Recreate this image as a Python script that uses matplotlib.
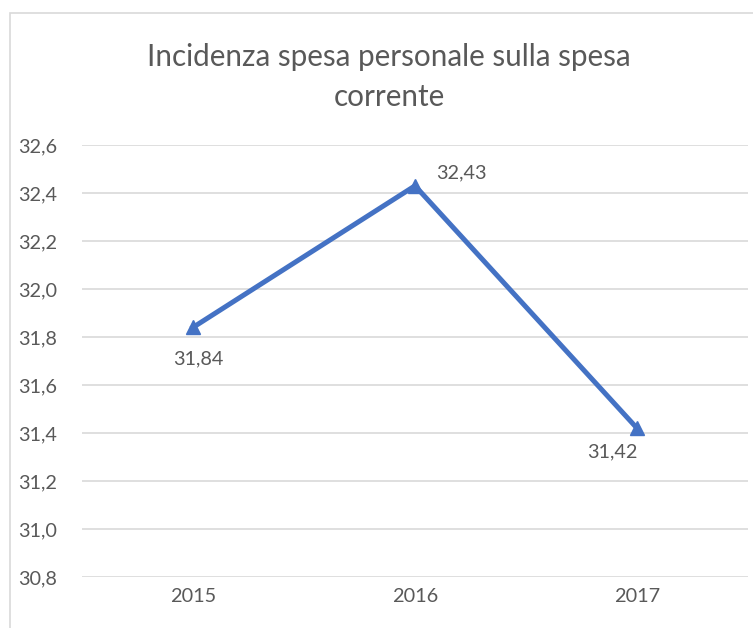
import matplotlib.pyplot as plt
from matplotlib.patches import Rectangle

anni = ['2015', '2016', '2017']
incidenza = [31.84, 32.43, 31.42]
etichette = ['31,84', '32,43', '31,42']
y_ticks = [30.8, 31.0, 31.2, 31.4, 31.6, 31.8, 32.0, 32.2, 32.4, 32.6]

plt.rcParams['font.family'] = ['Lato', 'DejaVu Sans']
grigio = '#595959'

fig = plt.figure(figsize=(7.53, 6.28), dpi=100)
# bordo del riquadro del grafico (tagliato a destra e in basso)
fig.patches.append(Rectangle((10 / 753, -0.05), 1.2, 1 - 13 / 628 + 0.05,
                             transform=fig.transFigure, fill=False,
                             edgecolor='#D9D9D9', linewidth=1.2))

ax = fig.add_axes([82 / 753, 1 - 577 / 628, 666 / 753, 432 / 628])
x = range(len(anni))
ax.plot(x, incidenza, color='#4472C4', linewidth=3.6, marker='^',
        markersize=9.5, zorder=3)

offsets = [(4, -23, 'center'), (15, 9, 'left'), (-18, -17, 'center')]
for xi, yi, lab, (dx, dy, ha) in zip(x, incidenza, etichette, offsets):
    ax.annotate(lab, (xi, yi), xytext=(dx, dy), textcoords='offset points',
                ha=ha, va='center', fontsize=14.3, color=grigio)

ax.set_xlim(-0.5, 2.5)
ax.set_ylim(30.8, 32.6)
ax.set_yticks(y_ticks)
ax.set_yticklabels([f'{v:.1f}'.replace('.', ',') for v in y_ticks])
ax.set_xticks(list(x))
ax.set_xticklabels(anni)
ax.tick_params(length=0, labelsize=14.3, colors=grigio, pad=8)
ax.tick_params(axis='y', pad=18)
for s in ax.spines.values():
    s.set_visible(False)
ax.grid(axis='y', color='#D9D9D9', linewidth=1.2)
ax.set_axisbelow(True)

fig.text(389 / 753, 1 - 77 / 628, 'Incidenza spesa personale sulla spesa\ncorrente',
         ha='center', va='center', fontsize=21.3, color=grigio, linespacing=1.5)

fig.savefig('out.png', dpi=100)
